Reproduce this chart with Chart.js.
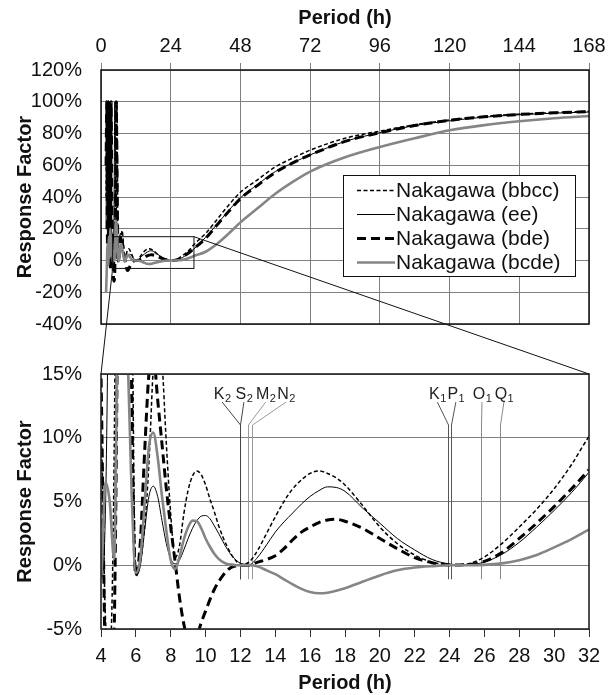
<!DOCTYPE html>
<html>
<head>
<meta charset="utf-8">
<script src="https://cdn.jsdelivr.net/npm/chart.js@4.4.0/dist/chart.umd.min.js"></script>
<style>
  html, body { margin: 0; padding: 0; background: #fff; }
  #wrap { position: relative; width: 614px; height: 695px; }
  #wrap canvas { position: absolute; left: 0; top: 0; }
</style>
</head>
<body>
<div id="wrap">
  <canvas id="overview" width="614" height="695"></canvas>
  <canvas id="detail" width="614" height="695"></canvas>
</div>
<script>
// period grid (h) shared by all series
var periods = [1.75, 2, 2.25, 2.5, 2.75, 3, 3.25, 3.5, 3.75,
  4, 4.25, 4.5, 4.75, 5, 5.25, 5.5, 5.75,
  6, 6.25, 6.5, 6.75, 7, 7.25, 7.5, 7.75,
  8, 8.25, 8.5, 8.75, 9, 9.25, 9.5, 9.75,
  10, 10.25, 10.5, 10.75, 11, 11.25, 11.5, 11.75,
  12, 12.5, 13, 13.5, 14, 14.5, 15, 15.5,
  16, 16.5, 17, 17.5, 18, 19, 20, 21, 22, 23,
  24, 25, 26, 27, 28, 29, 30, 31,
  32, 36, 40, 44, 48, 54, 60, 66,
  72, 84, 96, 108, 120, 132, 144, 156, 168];

// response factor (%)
var bbcc = [40, 100, 30, 100, 20, 100, 10, 45, 0,
  10, -4, -7, 8, 55, 100, 100, 30,
  -0.6, 0.2, 3, 8, 15.5, 19, 16, 9.5,
  4, 0.6, 1.5, 4.0, 5.9, 7.0, 7.4, 7.1,
  6.3, 5.2, 4.2, 3.1, 2.2, 1.45, 0.8, 0.35,
  0.05, 0.25, 1.2, 2.5, 3.8, 5.0, 6.0, 6.7,
  7.2, 7.4, 7.2, 6.85, 6.3, 4.7, 3.0, 1.7, 0.8, 0.25,
  0.03, 0.1, 0.65, 1.7, 3.0, 4.4, 6.0, 7.9,
  10.1, 17, 26, 35, 43, 51, 59, 64.5,
  69.5, 77, 81.5, 85.5, 88.5, 90.8, 92.2, 93.2, 94];

var ee = [20, 100, 10, 100, 5, 100, 0, 30, 2,
  -1, 4, 35, 100, 70, 40, 20, 6,
  -0.8, -0.1, 2.7, 5.4, 6.2, 5.4, 3.5, 1.7,
  0.5, 0.1, 0.4, 1.2, 2.1, 2.9, 3.5, 3.85,
  3.9, 3.65, 3.1, 2.5, 1.85, 1.25, 0.75, 0.4,
  0.15, 0.05, 0.65, 1.6, 2.6, 3.4, 4.1, 4.8,
  5.4, 5.85, 6.15, 6.1, 5.8, 4.5, 3.3, 2.1, 1.2, 0.45,
  0.1, 0.02, 0.25, 0.85, 1.8, 3.0, 4.3, 5.7,
  7.3, 14.5, 23, 31.5, 39.5, 48, 56, 61.5,
  66.5, 75, 80.5, 85, 88, 90.3, 91.8, 92.8, 93.5];

var bde = [60, 100, 5, 100, 0, 100, -5, 100, 30,
  15, -8, -13, -6, 30, 100, 60, 15,
  -0.8, 1.7, 8.8, 15, 16.5, 13, 9.5, 6,
  3, 0.3, -2.5, -4.6, -6.0, -6.3, -5.6, -4.5,
  -3.6, -2.7, -1.9, -1.3, -0.8, -0.4, -0.15, -0.05,
  0, 0, 0.25, 0.45, 0.75, 1.3, 2.0, 2.6,
  3.0, 3.35, 3.55, 3.6, 3.45, 2.9, 2.1, 1.3, 0.6, 0.2,
  0.02, 0.05, 0.3, 1.0, 2.1, 3.3, 4.6, 6.0,
  7.5, 14, 22.5, 31, 39, 47.5, 55.5, 61.5,
  66.5, 75, 80.5, 85, 88.3, 90.5, 92, 93, 93.8];

var bcde = [-20, -5, 10, -3, 15, 2, 20, 5, 14,
  -1, 6.5, 5, 0.5, 22, 25, 18, 6,
  -0.6, 0.5, 4.8, 9.3, 10.4, 8.5, 5.4, 2.7,
  0.4, -0.3, 0.65, 2.0, 3.0, 3.5, 3.45, 2.9,
  2.1, 1.45, 0.9, 0.5, 0.25, 0.1, 0.05, 0,
  0, 0, -0.1, -0.4, -0.7, -1.1, -1.5, -1.85,
  -2.1, -2.2, -2.15, -2.0, -1.8, -1.3, -0.8, -0.4, -0.18, -0.07,
  0, 0, 0.03, 0.15, 0.4, 0.8, 1.4, 2.05,
  2.8, 5.5, 10.5, 17, 24, 33, 42, 49.5,
  56, 65, 71.5, 77, 82, 85.3, 87.7, 89.6, 91];

var seriesNames = ['Nakagawa (bbcc)', 'Nakagawa (ee)', 'Nakagawa (bde)', 'Nakagawa (bcde)'];

// tidal constituents (h)
var tideNames   = ['K', 'S', 'M', 'N', 'K', 'P', 'O', 'Q'];
var tideSubs    = ['2', '2', '2', '2', '1', '1', '1', '1'];
var tidePeriods = [11.97, 12.00, 12.42, 12.66, 23.93, 24.07, 25.82, 26.87];
var tideLabelAt = [10.95, 12.2, 13.45, 14.62, 23.3, 24.36, 25.86, 27.12];

// zoomed window [xmin, xmax, ymin, ymax]
var zoomBox = [4, 32, -5, 15];

var FONT = "'Liberation Sans', Arial, sans-serif";
Chart.defaults.font.family = FONT;
Chart.defaults.color = '#111';

var lineStyles = [
  { borderColor: '#000', borderWidth: 1.5, borderDash: [4, 2.5] },
  { borderColor: '#000', borderWidth: 1, borderDash: [] },
  { borderColor: '#000', borderWidth: 3, borderDash: [9, 5] },
  { borderColor: '#858585', borderWidth: 2.6, borderDash: [] }
];
var tideColors = ['#444', '#444', '#999', '#999', '#555', '#555', '#888', '#888'];

function makeDatasets() {
  return [bbcc, ee, bde, bcde].map(function (vals, i) {
    return Object.assign({
      label: seriesNames[i],
      data: periods.map(function (p, j) { return { x: p, y: vals[j] }; }),
      pointRadius: 0,
      fill: false,
      cubicInterpolationMode: 'monotone',
      order: 3 - i
    }, lineStyles[i]);
  });
}

function pct(v) { return v + '%'; }

function drawFrame(ctx, ca, w, color) {
  ctx.save();
  ctx.strokeStyle = color;
  ctx.lineWidth = w;
  ctx.strokeRect(ca.left, ca.top, ca.right - ca.left, ca.bottom - ca.top);
  ctx.restore();
}

var overviewDecor = {
  id: 'overviewDecor',
  afterDatasetsDraw: function (chart) {
    var ctx = chart.ctx, xs = chart.scales.x, ys = chart.scales.y;
    drawFrame(ctx, chart.chartArea, 1.5, '#111');

    // inset rectangle
    var x1 = xs.getPixelForValue(zoomBox[0]), x2 = xs.getPixelForValue(zoomBox[1]);
    var y1 = ys.getPixelForValue(zoomBox[3]), y2 = ys.getPixelForValue(zoomBox[2]);
    ctx.save();
    ctx.strokeStyle = '#111';
    ctx.lineWidth = 1;
    ctx.strokeRect(x1, y1, x2 - x1, y2 - y1);
    ctx.restore();

    // legend
    var bx = 343, by = 175, bw = 232, bh = 101;
    ctx.save();
    ctx.fillStyle = '#fff';
    ctx.fillRect(bx, by, bw, bh);
    ctx.strokeStyle = '#111';
    ctx.lineWidth = 1;
    ctx.strokeRect(bx + 0.5, by + 0.5, bw, bh);
    ctx.font = '21px ' + FONT;
    ctx.textBaseline = 'middle';
    ctx.fillStyle = '#111';
    seriesNames.forEach(function (name, i) {
      var yy = by + 15 + i * 24 + 0.5;
      var st = lineStyles[i];
      ctx.save();
      ctx.strokeStyle = st.borderColor;
      ctx.lineWidth = st.borderWidth;
      ctx.setLineDash(st.borderDash);
      ctx.beginPath();
      ctx.moveTo(357, yy);
      ctx.lineTo(395, yy);
      ctx.stroke();
      ctx.restore();
      ctx.fillText(name, 396, yy + 1);
    });
    ctx.restore();
  }
};

var overview = new Chart(document.getElementById('overview'), {
  type: 'line',
  data: { datasets: makeDatasets() },
  plugins: [overviewDecor],
  options: {
    responsive: false,
    animation: false,
    events: [],
    layout: { padding: { top: 0, left: 0, right: 25, bottom: 371 } },
    plugins: { legend: { display: false }, tooltip: { enabled: false } },
    scales: {
      x: {
        type: 'linear', position: 'top', min: 0, max: 168,
        ticks: { stepSize: 24, padding: 5, font: { size: 20 }, maxRotation: 0 },
        grid: { color: '#808080', lineWidth: 1, tickLength: 7 },
        border: { display: false },
        title: { display: true, text: 'Period (h)', font: { size: 20, weight: 'bold' }, padding: { top: 6, bottom: 0 } },
        afterFit: function (s) { s.height = 70; }
      },
      y: {
        min: -40, max: 120,
        ticks: { stepSize: 20, padding: 19, font: { size: 20 }, callback: pct },
        grid: { color: '#808080', lineWidth: 1, drawTicks: false },
        border: { display: false },
        title: { display: true, text: 'Response Factor', font: { size: 20, weight: 'bold' }, padding: { top: 13, bottom: 0 } },
        afterFit: function (s) { s.width = 101; }
      }
    }
  }
});

function drawTideLabel(ctx, cx, cy, name, sub) {
  ctx.font = '16px ' + FONT;
  var w1 = ctx.measureText(name).width;
  ctx.font = '11px ' + FONT;
  var w2 = ctx.measureText(sub).width;
  var x0 = cx - (w1 + w2) / 2;
  ctx.font = '16px ' + FONT;
  ctx.fillText(name, x0, cy);
  ctx.font = '11px ' + FONT;
  ctx.fillText(sub, x0 + w1 + 0.5, cy + 3);
}

var detailDecor = {
  id: 'detailDecor',
  beforeDatasetsDraw: function (chart) {
    var ctx = chart.ctx, xs = chart.scales.x, ys = chart.scales.y;
    var yTop = ys.getPixelForValue(11), yBot = ys.getPixelForValue(-1.1);
    var yLab = ys.getPixelForValue(12.8);
    ctx.save();
    ctx.lineWidth = 1;
    tidePeriods.forEach(function (p, i) {
      var x = Math.round(xs.getPixelForValue(p)) + 0.5;
      var lx = xs.getPixelForValue(tideLabelAt[i]);
      ctx.strokeStyle = tideColors[i];
      ctx.beginPath();
      ctx.moveTo(x, yBot);
      ctx.lineTo(x, yTop);
      ctx.lineTo(lx, yLab);
      ctx.stroke();
    });
    ctx.restore();
  },
  afterDraw: function (chart) {
    var ctx = chart.ctx, ca = chart.chartArea, xs = chart.scales.x, ys = chart.scales.y;
    drawFrame(ctx, ca, 1.6, '#222');

    // constituent labels
    ctx.save();
    ctx.fillStyle = '#222';
    ctx.textBaseline = 'alphabetic';
    var yText = ys.getPixelForValue(12.8) - 3;
    tidePeriods.forEach(function (p, i) {
      drawTideLabel(ctx, xs.getPixelForValue(tideLabelAt[i]), yText, tideNames[i], tideSubs[i]);
    });
    ctx.restore();

    // connectors from inset box to this panel
    var ox = overview.scales.x, oy = overview.scales.y;
    ctx.save();
    ctx.strokeStyle = '#111';
    ctx.lineWidth = 1;
    ctx.beginPath();
    ctx.moveTo(ox.getPixelForValue(zoomBox[0]), oy.getPixelForValue(zoomBox[2]));
    ctx.lineTo(ca.left, ca.top);
    ctx.moveTo(ox.getPixelForValue(zoomBox[1]), oy.getPixelForValue(zoomBox[3]));
    ctx.lineTo(ca.right, ca.top);
    ctx.stroke();
    ctx.restore();
  }
};

var detail = new Chart(document.getElementById('detail'), {
  type: 'line',
  data: { datasets: makeDatasets() },
  plugins: [detailDecor],
  options: {
    responsive: false,
    animation: false,
    events: [],
    layout: { padding: { top: 374, left: 0, right: 25, bottom: 0 } },
    plugins: { legend: { display: false }, tooltip: { enabled: false } },
    scales: {
      x: {
        type: 'linear', position: 'bottom', min: zoomBox[0], max: zoomBox[1],
        ticks: { stepSize: 2, padding: 7, font: { size: 20 }, maxRotation: 0 },
        grid: { drawOnChartArea: false, color: '#333', tickLength: 8 },
        border: { display: false },
        title: { display: true, text: 'Period (h)', font: { size: 20, weight: 'bold' }, padding: { top: 0, bottom: 0 } },
        afterFit: function (s) { s.height = 66; }
      },
      y: {
        min: zoomBox[2], max: zoomBox[3],
        ticks: { stepSize: 5, padding: 19, font: { size: 20 }, callback: pct },
        grid: { color: '#808080', lineWidth: 1, drawTicks: false },
        border: { display: false },
        title: { display: true, text: 'Response Factor', font: { size: 20, weight: 'bold' }, padding: { top: 13, bottom: 0 } },
        afterFit: function (s) { s.width = 101; }
      }
    }
  }
});
</script>
</body>
</html>
